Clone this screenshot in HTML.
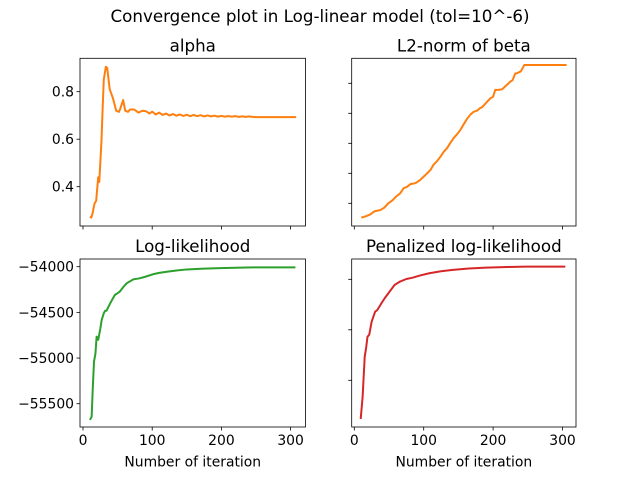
<!DOCTYPE html>
<html><head><meta charset="utf-8"><style>
html,body{margin:0;padding:0;background:#fff;}
svg{display:block;font-family:"DejaVu Sans","Liberation Sans",sans-serif;}
</style></head><body>
<svg id="fig" width="640" height="480" viewBox="0 0 640 480" xmlns="http://www.w3.org/2000/svg">
<rect width="640" height="480" fill="#fff"/>
<text x="320" y="22" font-size="16.7" text-anchor="middle" fill="#000">Convergence plot in Log-linear model (tol=10^-6)</text>
</svg>
<script>
const alphaIter=[10,12,14,16.7,19,22,23.5,25,26.8,28,30,33,35,38.6,43,48,52,54,58,61,65,68,74,80,86,91,96,100,105,110,115,120,125,130,135,140,145,150,155,160,165,170,175,180,185,190,195,200,205,210,215,220,225,230,235,240,245,250,260,280,308];
const alphaVal=[0.274,0.27,0.29,0.33,0.34,0.44,0.42,0.5,0.6,0.7,0.85,0.905,0.9,0.81,0.775,0.72,0.715,0.73,0.765,0.72,0.715,0.725,0.725,0.712,0.72,0.718,0.708,0.716,0.704,0.712,0.702,0.708,0.7,0.706,0.699,0.704,0.698,0.703,0.697,0.702,0.697,0.701,0.696,0.7,0.696,0.699,0.695,0.698,0.695,0.697,0.695,0.697,0.694,0.696,0.694,0.696,0.694,0.693,0.693,0.693,0.693];
const betaIter=[10,18,23,27,30,37,43,49,55,60,66,71,76,81,88,95,100,105,110,114,119,124,129,134,138,143,148,153,157,162,167,172,177,181,184,190,196,200,203,208,213,217,220,225,228,232,234,240,245,306];
const betaVal=[0.52,0.58,0.63,0.7,0.74,0.77,0.85,1.0,1.1,1.22,1.33,1.5,1.55,1.64,1.67,1.78,1.89,2.0,2.12,2.28,2.4,2.55,2.72,2.85,3.0,3.17,3.3,3.45,3.61,3.8,3.95,4.05,4.09,4.17,4.2,4.35,4.5,4.55,4.78,4.78,4.8,4.89,4.95,5.06,5.1,5.33,5.33,5.4,5.61,5.61];
const llIter=[10,12.5,14,15.9,18,19.7,22,25,27,30,32,34,40,46,50,53,58,63,68,73,82,90,101,110,121,135,150,170,198,220,246,307];
const llVal=[-55678,-55642,-55350,-55040,-54950,-54766,-54800,-54680,-54584,-54510,-54482,-54482,-54390,-54310,-54290,-54274,-54225,-54182,-54160,-54138,-54127,-54110,-54083,-54068,-54055,-54042,-54030,-54022,-54015,-54011,-54007,-54007];
const plIter=[9.2,12,15,17,19,21.5,25,30,33,39,44,49,58,66,75,84,95,108,125,142,165,190,220,247,304];
const plVal=[-55583,-55362,-54966,-54880,-54768,-54750,-54620,-54521,-54505,-54438,-54385,-54339,-54256,-54222,-54197,-54184,-54162,-54140,-54120,-54107,-54093,-54084,-54078,-54075,-54075];
const xTicks=[0,100,200,300];
const alphaTicks=[0.4,0.6,0.8];
const betaTicks=[1,2,3,4,5];
const llTicks=[-55500,-55000,-54500,-54000];
const plTicks=[-55200,-54700,-54200];
const NS='http://www.w3.org/2000/svg';
const svg=document.getElementById('fig');
function mk(tag,attrs,parent){const e=document.createElementNS(NS,tag);for(const k in attrs)e.setAttribute(k,attrs[k]);(parent||svg).appendChild(e);return e;}
function panel(o){
  const g=mk('g',{});
  
  
  const L=o.l,R=o.r,T=o.t,B=o.b;
  const sx=v=>o.x0+(v)*o.kx;
  const sy=v=>o.y0-(v-o.v0)*o.ky;
  const t=mk('text',{x:(L+R)/2,y:T-7,'font-size':16.7,'text-anchor':'middle',fill:'#000'},g);
  t.textContent=o.title;
  
  
  xTicks.forEach(v=>{
    const x=sx(v);
    const tk=mk('line',{x1:x,x2:x,y1:B,y2:B+3.5,stroke:'#000','stroke-width':0.8},g);
    
    
    if(o.xlab){
      const tl=mk('text',{x:x,y:B+18,'font-size':13.9,'text-anchor':'middle',fill:'#000'},g);
      tl.textContent=v;
      
      
    }
  });
  o.yticks.forEach(v=>{
    const y=sy(v);
    const tk=mk('line',{x1:L-3.5,x2:L,y1:y,y2:y,stroke:'#000','stroke-width':0.8},g);
    
    
    if(o.ylab){
      const tl=mk('text',{x:L-6,y:y+5,'font-size':13.9,'text-anchor':'end',fill:'#000'},g);
      tl.textContent=o.fmt(v);
      
      
    }
  });
  if(o.xlab){
    const xl=mk('text',{x:(L+R)/2,y:B+39.5,'font-size':13.9,'text-anchor':'middle',fill:'#000'},g);
    xl.textContent='Number of iteration';
    
    
  }
  const d=o.xs.map((x,i)=>(i?'L':'M')+sx(x).toFixed(2)+','+sy(o.ys[i]).toFixed(2)).join(' ');
  const p=mk('path',{d:d,fill:'none',stroke:o.color,'stroke-width':2,'stroke-linejoin':'round'},g);
  
  
  const fr=mk('rect',{x:L,y:T,width:R-L,height:B-T,fill:'none',stroke:'#000','stroke-width':0.8},g);
  
  
}
const minus=s=>String(s).replace('-','\u2212');
panel({name:'alpha',title:'alpha',l:80,r:305.5,t:58.3,b:226,x0:83,kx:0.692,v0:0.8,y0:91.7,ky:237.5,
  yticks:alphaTicks,ylab:true,xlab:false,fmt:v=>v.toFixed(1),xs:alphaIter,ys:alphaVal,color:'#ff7f0e'});
panel({name:'beta-norm',title:'L2-norm of beta',l:351.7,r:576,t:58.3,b:226,x0:354.3,kx:0.694,v0:1,y0:203.3,ky:30,
  yticks:betaTicks,ylab:false,xlab:false,fmt:v=>v,xs:betaIter,ys:betaVal,color:'#ff7f0e'});
panel({name:'log-likelihood',title:'Log-likelihood',l:80,r:305.5,t:259,b:427,x0:83,kx:0.692,v0:-54000,y0:266.7,ky:45.67/500,
  yticks:llTicks,ylab:true,xlab:true,fmt:minus,xs:llIter,ys:llVal,color:'#2ca02c'});
panel({name:'penalized-log-likelihood',title:'Penalized log-likelihood',l:351.7,r:576,t:259,b:427,x0:354.3,kx:0.694,v0:-54200,y0:279.3,ky:50.5/500,
  yticks:plTicks,ylab:false,xlab:true,fmt:minus,xs:plIter,ys:plVal,color:'#d62728'});
</script>
</body></html>
